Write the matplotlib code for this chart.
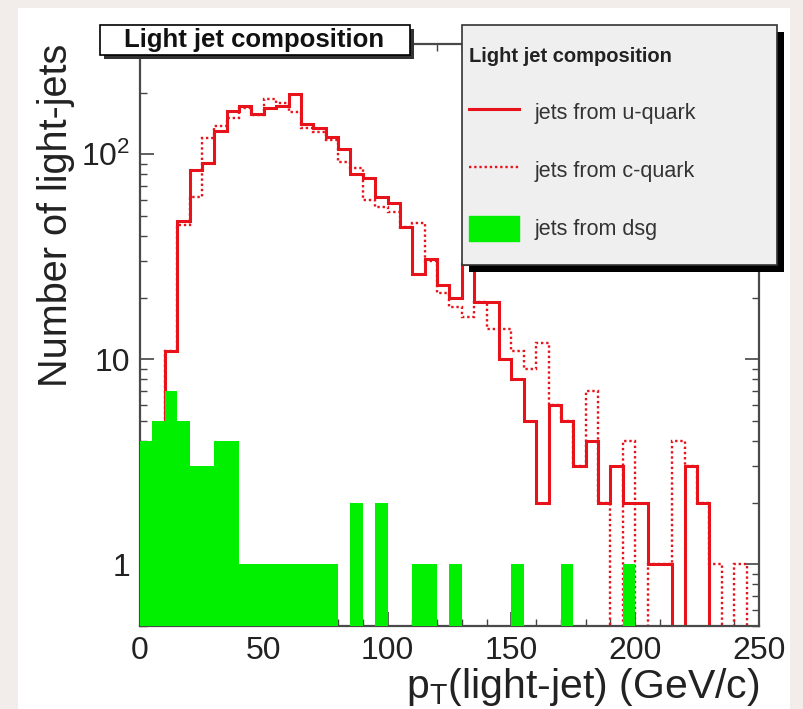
import numpy as np
import matplotlib.pyplot as plt
from matplotlib.patches import Rectangle, Patch
from matplotlib.lines import Line2D
from matplotlib.ticker import LogLocator, FixedLocator, FuncFormatter, NullFormatter

plt.rcParams['font.family'] = ['Liberation Sans', 'DejaVu Sans']
plt.rcParams['mathtext.fontset'] = 'custom'
plt.rcParams['mathtext.rm'] = 'Liberation Sans'
plt.rcParams['mathtext.it'] = 'Liberation Sans:italic'

# histogram binning (GeV/c)
bin_edges = np.arange(0, 251, 5)

# jets from u-quark (solid red)
u_quark = [0, 0, 11, 47, 84, 91, 130, 162, 171, 157,
           168, 172, 196, 140, 134, 121, 106, 80, 77, 62,
           58, 44, 26, 31, 23, 20, 29, 19, 19, 10,
           8, 5, 2, 6, 5, 3, 4, 2, 3, 2,
           2, 1, 1, 0, 3, 2, 0, 0, 0, 0]

# jets from c-quark (dotted red)
c_quark = [0, 0, 11, 45, 62, 120, 138, 150, 168, 155,
           185, 178, 160, 135, 128, 118, 92, 86, 60, 55,
           52, 44, 46, 30, 21, 18, 16, 19, 14, 14,
           11, 9, 12, 6, 5, 3, 7, 2, 0, 4,
           0, 1, 1, 4, 3, 2, 1, 0, 1, 0]

# jets from dsg (green filled)
dsg = [4, 5, 7, 5, 3, 3, 4, 4, 1, 1,
       1, 1, 1, 1, 1, 1, 0, 2, 0, 2,
       0, 0, 1, 1, 0, 1, 0, 0, 0, 0,
       1, 0, 0, 0, 1, 0, 0, 0, 0, 1,
       0, 0, 0, 0, 0, 0, 0, 0, 0, 0]

labels = ['jets from u-quark', 'jets from c-quark', 'jets from dsg']
title = 'Light jet composition'

red = '#e8121a'
green = '#00f000'

W, H = 804, 709
fig = plt.figure(figsize=(W / 100, H / 100), dpi=100)
fig.patch.set_facecolor('#f2eceb')


def fx(px):
    return px / W


def fy(py):
    return 1 - py / H


def box(x0, y0, x1, y1, **kw):
    r = Rectangle((fx(x0), fy(y1)), (x1 - x0) / W, (y1 - y0) / H,
                  transform=fig.transFigure, **kw)
    fig.add_artist(r)
    return r


# white canvas
box(18, 8, 790, 709, facecolor='white', edgecolor='none', zorder=-10)

ax = fig.add_axes([fx(140), fy(626), (759 - 140) / W, (626 - 44) / H])

centers = (bin_edges[:-1] + bin_edges[1:]) / 2
ax.stairs(u_quark, bin_edges, color=red, lw=2.2, zorder=2)
ax.stairs(c_quark, bin_edges, color=red, lw=1.7, ls=(0, (1, 1.2)), zorder=2)
ax.bar(centers, dsg, width=5, color=green, edgecolor='none', zorder=3)

ax.set_yscale('log')
ax.set_xlim(0, 250)
ax.set_ylim(0.5, 345)

ax.xaxis.set_major_locator(FixedLocator([0, 50, 100, 150, 200, 250]))
ax.xaxis.set_minor_locator(FixedLocator(np.arange(0, 251, 10)))
ax.yaxis.set_major_locator(LogLocator(base=10))
ax.yaxis.set_minor_locator(LogLocator(base=10, subs=np.arange(2, 10)))
ax.yaxis.set_minor_formatter(NullFormatter())
ax.yaxis.set_major_formatter(FuncFormatter(
    lambda v, p: {1: '1', 10: '10', 100: r'$10^{2}$'}.get(int(round(v)), '')))

ax.tick_params(which='both', direction='in', top=True, right=True,
               colors='#444444', labelcolor='#222222')
ax.tick_params(which='major', length=10, width=1.2, labelsize=23, pad=7)
ax.tick_params(which='minor', length=5, width=1.0)
for s in ax.spines.values():
    s.set_color('#4a4a4a')
    s.set_linewidth(1.6)

ax.set_xlabel(r'p$_{\mathrm{T}}$(light-jet) (GeV/c)', fontsize=29.5, loc='right',
              color='#222222', labelpad=0)
ax.set_ylabel('Number of light-jets', fontsize=28.5, loc='top', color='#222222',
              labelpad=4)

# title box
box(104, 29, 414, 59, facecolor='#333333', edgecolor='none', zorder=1)
box(100, 25, 410, 55, facecolor='white', edgecolor='black', lw=1.2, zorder=2)
fig.text(fx(254), fy(40), title, fontsize=18.5, fontweight='bold',
         ha='center', va='center', color='#111111', zorder=3)

# legend box
box(469, 32, 784, 272, facecolor='black', edgecolor='none', zorder=1)
box(462, 25, 777, 265, facecolor='#efefef', edgecolor='#333333', lw=1.2, zorder=2)
handles = [Line2D([], [], color=red, lw=2.2),
           Line2D([], [], color=red, lw=1.7, ls=(0, (1, 1.2))),
           Patch(facecolor=green, edgecolor=green)]
leg = fig.legend(handles, labels, title=title, loc='upper left',
                 bbox_to_anchor=(fx(469), fy(47)), frameon=False, fontsize=15.5,
                 title_fontproperties={'weight': 'bold', 'size': 14.5},
                 alignment='left', handlelength=2.3, handleheight=1.4,
                 handletextpad=0.75, labelspacing=1.55, borderpad=0,
                 borderaxespad=0)
leg._legend_box.sep = 24
leg.set_zorder(5)
for t in leg.get_texts():
    t.set_color('#333333')
leg.get_title().set_color('#222222')

fig.savefig('out.png', dpi=100, facecolor=fig.get_facecolor())
